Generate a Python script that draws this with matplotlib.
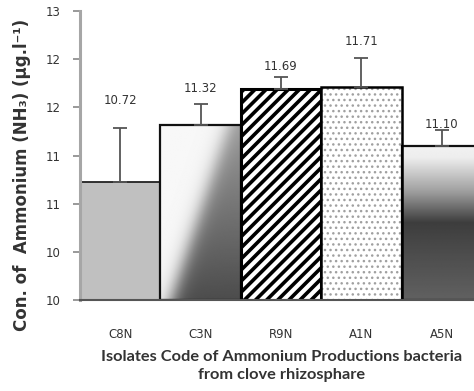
import numpy as np
import matplotlib
matplotlib.use('Agg')
import matplotlib.pyplot as plt

# ---- data ----
isolates = ['C8N', 'C3N', 'R9N', 'A1N', 'A5N']
ammonium = [10.72, 11.32, 11.69, 11.71, 11.10]
err_upper = [0.57, 0.21, 0.13, 0.30, 0.16]
ytick_vals = [9.5, 10.0, 10.5, 11.0, 11.5, 12.0, 12.5]
ytick_labels = ['10', '10', '11', '11', '12', '12', '13']
label_offsets = [0.28, 0.17, 0.10, 0.17, 0.06]

ymin, ymax = 9.5, 12.5

fig = plt.figure(figsize=(4.74, 3.91), dpi=100)
fig.patch.set_facecolor('white')
ax = fig.add_axes([80 / 474, 91 / 391, 402 / 474, 289 / 391])
ax.set_xlim(-0.5, 4.5)
ax.set_ylim(ymin, ymax)

x = np.arange(len(isolates))
plt.rcParams['hatch.linewidth'] = 2.6

# C8N solid gray
b0 = ax.bar(x[0], ammonium[0] - ymin, bottom=ymin, width=1.0, color='#c0c0c0',
            edgecolor='#222222', linewidth=1.3, zorder=2)

# C3N diagonal gradient
b1 = ax.bar(x[1], ammonium[1] - ymin, bottom=ymin, width=1.0, facecolor='none',
            edgecolor='#111111', linewidth=1.6, zorder=2)
W, H = 80, int((ammonium[1] - ymin) * 96.4)
px, py = np.meshgrid(np.linspace(0, W, W), np.linspace(0, H, H))
s = (171 * px + 56 * py) / 180.0
mid = 65.0 * H / 175
t = 1 / (1 + np.exp(-(s - mid) / 5.0))
dark = 0.30 + 0.30 * (1 - py / H)
img1 = 0.97 * (1 - t) + dark * t
im1 = ax.imshow(img1, cmap='gray', vmin=0, vmax=1, aspect='auto', origin='upper',
                extent=(x[1] - 0.5, x[1] + 0.5, ymin, ammonium[1]), zorder=1,
                interpolation='bilinear')
im1.set_clip_path(b1.patches[0])

# R9N hatched
ax.bar(x[2], ammonium[2] - ymin, bottom=ymin, width=1.0, facecolor='white',
       edgecolor='black', hatch='///', linewidth=2.2, zorder=2)

# A1N dotted
plt.rcParams['hatch.linewidth'] = 1.0
ax.bar(x[3], ammonium[3] - ymin, bottom=ymin, width=1.0, facecolor='white',
       edgecolor='#a0a0a0', hatch='...', linewidth=0, zorder=2)
ax.bar(x[3], ammonium[3] - ymin, bottom=ymin, width=1.0, facecolor='none',
       edgecolor='black', linewidth=1.8, zorder=2.1)

# A5N vertical gradient
b4 = ax.bar(x[4], ammonium[4] - ymin, bottom=ymin, width=1.0, facecolor='none',
            edgecolor='#111111', linewidth=1.6, zorder=2)
H4 = 200
fr = np.linspace(0, 1, H4)
col = np.interp(fr, [0, 0.08, 0.3, 0.5, 0.7, 1.0], [0.95, 0.93, 0.62, 0.24, 0.30, 0.38])
img4 = np.tile(col[:, None], (1, 40))
im4 = ax.imshow(img4, cmap='gray', vmin=0, vmax=1, aspect='auto', origin='upper',
                extent=(x[4] - 0.5, x[4] + 0.5, ymin, ammonium[4]), zorder=1,
                interpolation='bilinear')
im4.set_clip_path(b4.patches[0])

ax.set_xlim(-0.5, 4.5)
ax.set_ylim(ymin, ymax)

# error bars (upper only)
ax.errorbar(x, ammonium, yerr=[np.zeros(len(x)), err_upper], fmt='none',
            ecolor='#555555', elinewidth=1.3, capsize=5, capthick=1.3, zorder=3)

# value labels
for xi, v, e, o in zip(x, ammonium, err_upper, label_offsets):
    ax.text(xi, v + e + o, f'{v:.2f}', ha='center', va='center',
            fontsize=8.5, color='#333333', zorder=4)

# axes styling
for sp in ['top', 'right']:
    ax.spines[sp].set_visible(False)
ax.spines['left'].set_color('#a6a6a6')
ax.spines['left'].set_linewidth(2.2)
ax.spines['bottom'].set_color('#555555')
ax.spines['bottom'].set_linewidth(1.5)

ax.set_yticks(ytick_vals, ytick_labels)
ax.tick_params(axis='y', length=5, width=1.2, color='#888888', pad=9,
               labelsize=8.5, labelcolor='#333333')
ax.set_xticks(x, isolates)
ax.tick_params(axis='x', length=0, pad=20, labelsize=8.5, labelcolor='#333333')

fig.text(282 / 474, 1 - 366 / 391,
         'Isolates Code of Ammonium Productions bacteria\nfrom clove rhizosphare',
         ha='center', va='center', fontsize=11.8, fontweight='bold', color='#333333',
         family='Lato', linespacing=1.35)

fig.text(22 / 474, 1 - 175 / 391, 'Con. of  Ammonium (NH\u2083) (\u00b5g.l\u207b\u00b9)',
         rotation=90, ha='center', va='center', fontsize=12, fontweight='bold',
         color='#333333')

fig.savefig('out.png', dpi=100)
